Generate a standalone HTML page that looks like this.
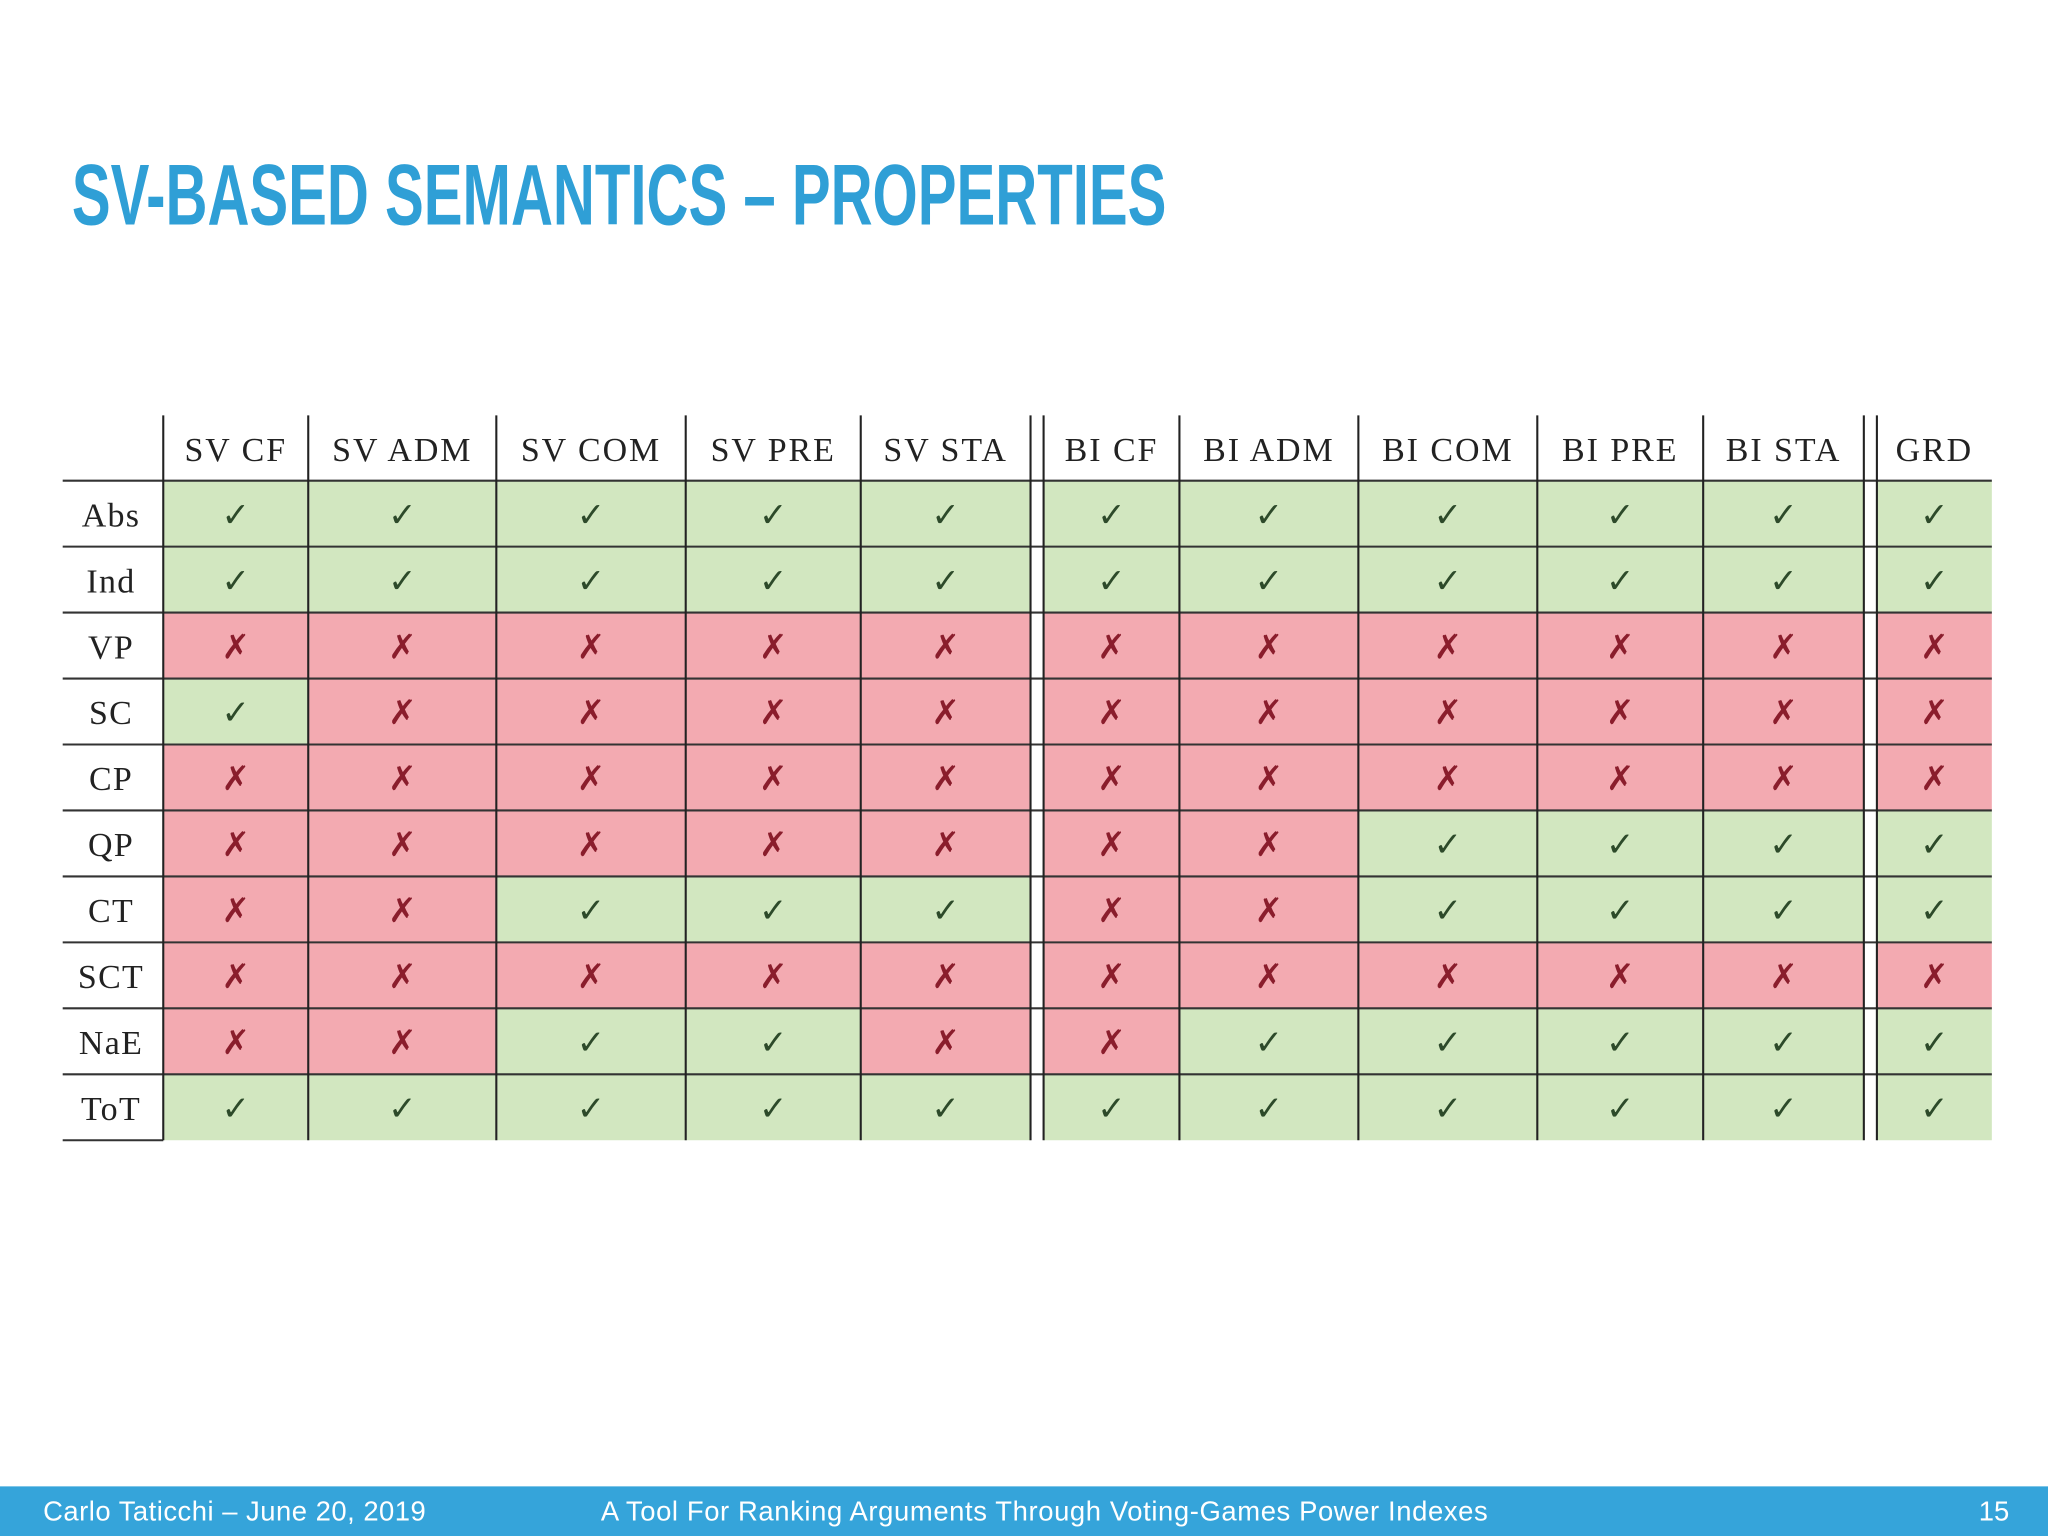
<!DOCTYPE html>
<html><head><meta charset="utf-8"><style>
html,body{margin:0;padding:0;background:#fff;}
svg{display:block;}
</style></head><body>
<svg id="s" width="2048" height="1536" viewBox="0 0 1568 1176" xmlns="http://www.w3.org/2000/svg">
<rect width="1568" height="1176" fill="#fff"/>
<text x="55" y="172" font-family="Liberation Sans, sans-serif" font-weight="bold" font-size="66" fill="#2f9fd6" textLength="838" lengthAdjust="spacingAndGlyphs">SV-BASED SEMANTICS – PROPERTIES</text>
<g id="tbl"></g>
<rect x="0" y="1138" width="1568" height="38" fill="#35a4da"/>
<text x="33" y="1164" font-family="Liberation Sans, sans-serif" font-size="21" fill="#fff" textLength="293">Carlo Taticchi – June 20, 2019</text>
<text x="460" y="1164" font-family="Liberation Sans, sans-serif" font-size="21" fill="#fff" textLength="679">A Tool For Ranking Arguments Through Voting-Games Power Indexes</text>
<text x="1515" y="1164" font-family="Liberation Sans, sans-serif" font-size="21" fill="#fff">15</text>
</svg>
<script>
const columns=["SV CF","SV ADM","SV COM","SV PRE","SV STA","BI CF","BI ADM","BI COM","BI PRE","BI STA","GRD"];
const rows=["Abs","Ind","VP","SC","CP","QP","CT","SCT","NaE","ToT"];
const rowAbs=[1,1,1,1,1,1,1,1,1,1,1];
const rowInd=[1,1,1,1,1,1,1,1,1,1,1];
const rowVP=[0,0,0,0,0,0,0,0,0,0,0];
const rowSC=[1,0,0,0,0,0,0,0,0,0,0];
const rowCP=[0,0,0,0,0,0,0,0,0,0,0];
const rowQP=[0,0,0,0,0,0,0,1,1,1,1];
const rowCT=[0,0,1,1,1,0,0,1,1,1,1];
const rowSCT=[0,0,0,0,0,0,0,0,0,0,0];
const rowNaE=[0,0,1,1,0,0,1,1,1,1,1];
const rowToT=[1,1,1,1,1,1,1,1,1,1,1];
const values=[rowAbs,rowInd,rowVP,rowSC,rowCP,rowQP,rowCT,rowSCT,rowNaE,rowToT];

const NS="http://www.w3.org/2000/svg";
const g=document.getElementById('tbl');
const colL=[125,236,380,525,659,799,903,1040,1177,1304,1437];
const colR=[236,380,525,659,789,903,1040,1177,1304,1427,1525];
const top0=368,rh=50.5,headTop=318;
function mk(t,a){const e=document.createElementNS(NS,t);for(const k in a)e.setAttribute(k,a[k]);g.appendChild(e);return e;}
const serif="Liberation Serif, DejaVu Serif, serif";
columns.forEach((c,j)=>{
  const t=mk('text',{x:(colL[j]+colR[j])/2,y:353,'text-anchor':'middle','font-family':serif,'font-size':26,fill:'#222','letter-spacing':'1.5'});
  t.textContent=c.toUpperCase();
  
  
});
rows.forEach((r,i)=>{
  const y=top0+i*rh;
  const t=mk('text',{x:85,y:y+35,'text-anchor':'middle','font-family':serif,'font-size':26,fill:'#222','letter-spacing':'1'});
  t.textContent=r;
  
  
  values[i].forEach((v,j)=>{
    const rc=mk('rect',{x:colL[j],y:y,width:colR[j]-colL[j],height:rh,fill:v?'#d2e7c0':'#f3aab1'});
    
    
    const m=mk('text',{x:(colL[j]+colR[j])/2,y:y+35,'text-anchor':'middle','font-family':'DejaVu Sans, sans-serif','font-size':26,fill:v?'#2d4a2a':'#8a1d2c'});
    m.textContent=v?'✓':'✗';
    
    
  });
});
const bottom=top0+rows.length*rh;
for(let i=0;i<=rows.length;i++){
  const y=top0+i*rh;
  const l=mk('line',{x1:48,x2:i===rows.length?125:1525,y1:y,y2:y,stroke:'#333','stroke-width':1.6});
  
  
}
[125,236,380,525,659,789,799,903,1040,1177,1304,1427,1437].forEach(x=>{
  const l=mk('line',{x1:x,x2:x,y1:headTop,y2:bottom,stroke:'#222','stroke-width':1.6});
  
  
});
</script>
</body></html>
